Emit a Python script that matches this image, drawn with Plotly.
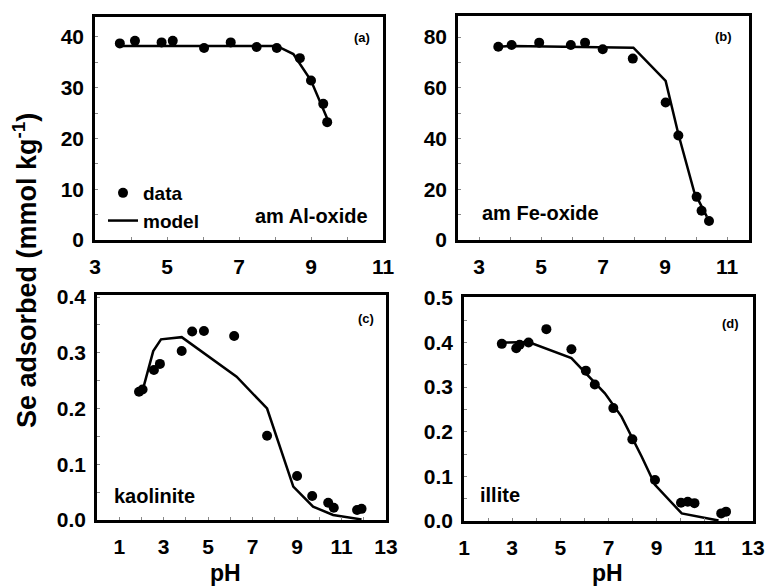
import plotly.graph_objects as go

# ---- data ----
a_x = [3.69, 4.11, 4.85, 5.16, 6.03, 6.77, 7.49, 8.05, 8.69, 9.00, 9.34, 9.45]
a_y = [38.7, 39.2, 38.9, 39.2, 37.8, 38.9, 38.0, 37.8, 35.8, 31.4, 26.8, 23.2]
a_mx = [3.69, 8.05, 8.51, 9.00, 9.45]
a_my = [38.2, 38.2, 36.6, 31.4, 23.9]

b_x = [3.62, 4.05, 4.94, 5.96, 6.42, 6.99, 7.96, 9.02, 9.43, 10.02, 10.18, 10.42]
b_y = [76.2, 76.9, 77.8, 76.9, 77.8, 75.2, 71.5, 54.2, 41.2, 17.0, 11.5, 7.5]
b_mx = [3.62, 4.05, 7.98, 9.02, 9.43, 9.94, 10.35]
b_my = [76.2, 76.5, 75.8, 62.7, 41.8, 19.0, 9.2]

c_x = [1.89, 2.05, 2.56, 2.83, 3.81, 4.28, 4.81, 6.17, 7.65, 9.00, 9.68, 10.40, 10.65, 11.70, 11.90]
c_y = [0.230, 0.234, 0.269, 0.280, 0.303, 0.338, 0.339, 0.330, 0.151, 0.079, 0.043, 0.031, 0.022, 0.018, 0.020]
c_mx = [2.05, 2.53, 2.88, 3.81, 6.28, 7.65, 8.83, 9.72, 10.62, 11.90]
c_my = [0.232, 0.303, 0.324, 0.328, 0.257, 0.200, 0.060, 0.024, 0.009, 0.001]

d_x = [2.57, 3.17, 3.31, 3.68, 4.42, 5.46, 6.06, 6.43, 7.20, 7.99, 8.93, 10.01, 10.29, 10.57, 11.68, 11.88]
d_y = [0.397, 0.387, 0.395, 0.400, 0.430, 0.385, 0.337, 0.306, 0.253, 0.183, 0.092, 0.041, 0.043, 0.040, 0.017, 0.021]
d_mx = [2.57, 3.68, 5.46, 6.85, 7.54, 8.38, 8.93, 10.04, 11.57]
d_my = [0.400, 0.401, 0.365, 0.286, 0.234, 0.144, 0.081, 0.017, 0.001]

panels = [
    dict(key="a", px=a_x, py=a_y, mx=a_mx, my=a_my, xr=[3, 11], yr=[0, 43.9], ydt=10,
         xdom=[95, 383], ydom=[17, 240], label="(a)", name="am Al-oxide"),
    dict(key="b", px=b_x, py=b_y, mx=b_mx, my=b_my, xr=[2.32, 11.71], yr=[0, 88.3], ydt=20,
         xdom=[458, 749], ydom=[16, 240], label="(b)", name="am Fe-oxide"),
    dict(key="c", px=c_x, py=c_y, mx=c_mx, my=c_my, xr=[0, 13], yr=[0, 0.4036], ydt=0.1,
         xdom=[97, 386], ydom=[295, 520], label="(c)", name="kaolinite"),
    dict(key="d", px=d_x, py=d_y, mx=d_mx, my=d_my, xr=[1, 13], yr=[0, 0.502], ydt=0.1,
         xdom=[464, 753], ydom=[297, 521], label="(d)", name="illite"),
]

W, H = 768, 586
FONT = "Liberation Sans, Arial, sans-serif"

fig = go.Figure()
annotations = []
layout = {}
for i, p in enumerate(panels):
    n = "" if i == 0 else str(i + 1)
    xa, ya = "x" + n, "y" + n
    fig.add_trace(go.Scatter(x=p["mx"], y=p["my"], mode="lines", xaxis=xa, yaxis=ya,
                             line=dict(color="black", width=2.5), name="model",
                             showlegend=(i == 0), legendgroup="m", legendrank=2))
    fig.add_trace(go.Scatter(x=p["px"], y=p["py"], mode="markers", xaxis=xa, yaxis=ya,
                             marker=dict(color="black", size=10), name="data",
                             showlegend=(i == 0), legendgroup="d", legendrank=1))
    common = dict(showline=True, linecolor="black", linewidth=2.5, mirror=True,
                  showgrid=False, zeroline=False, ticks="inside", ticklen=3,
                  tickcolor="#888", tickwidth=1, automargin=False,
                  tickfont=dict(family=FONT, size=21, color="black", weight="bold"))
    layout["xaxis" + n] = dict(common, range=p["xr"], dtick=2, tick0=1,
                               domain=[p["xdom"][0] / W, p["xdom"][1] / W],
                               anchor=ya, ticklabelstandoff=6,
                               minor=dict(dtick=1, ticks="inside", ticklen=3, tickcolor="#888"))
    layout["yaxis" + n] = dict(common, range=p["yr"], dtick=p["ydt"],
                               domain=[1 - p["ydom"][1] / H, 1 - p["ydom"][0] / H],
                               anchor=xa, ticklabelstandoff=4,
                               tickformat=".1f" if p["ydt"] < 1 else "d",
                               minor=dict(dtick=p["ydt"] / 2, ticks="inside", ticklen=3, tickcolor="#888"))

# panel letters and names (pixel positions)
labels = [
    ("(a)", 362, 38, 13), ("(b)", 723, 37, 13), ("(c)", 366, 318, 13), ("(d)", 730, 323, 13),
    ("am Al-oxide", 311, 216, 20), ("am Fe-oxide", 540, 213, 20),
    ("kaolinite", 154, 496, 20), ("illite", 500, 495, 20),
    ("pH", 225, 573, 23), ("pH", 607, 573, 23),
]
for text, x, y, s in labels:
    annotations.append(dict(text=text, x=x / W, y=1 - y / H, xref="paper", yref="paper",
                            showarrow=False, xanchor="center", yanchor="middle",
                            font=dict(family=FONT, size=s, color="black", weight="bold")))
annotations.append(dict(text="Se adsorbed (mmol kg<sup>-1</sup>)", x=25 / W, y=1 - 271 / H,
                        xref="paper", yref="paper", showarrow=False, textangle=-90,
                        xanchor="center", yanchor="middle",
                        font=dict(family=FONT, size=27, color="black", weight="bold")))

fig.update_layout(
    width=W, height=H, margin=dict(l=0, r=0, t=0, b=0),
    paper_bgcolor="white", plot_bgcolor="white",
    annotations=annotations,
    legend=dict(x=103 / W, y=1 - 174 / H, xanchor="left", yanchor="top",
                bgcolor="rgba(0,0,0,0)", itemwidth=30, tracegroupgap=0,
                traceorder="grouped",
                font=dict(family=FONT, size=19, color="black", weight="bold")),
    **layout,
)
fig.write_html("out.html", config={"displayModeBar": False},
               post_script="document.body.style.margin='0';document.body.style.overflow='hidden';")
